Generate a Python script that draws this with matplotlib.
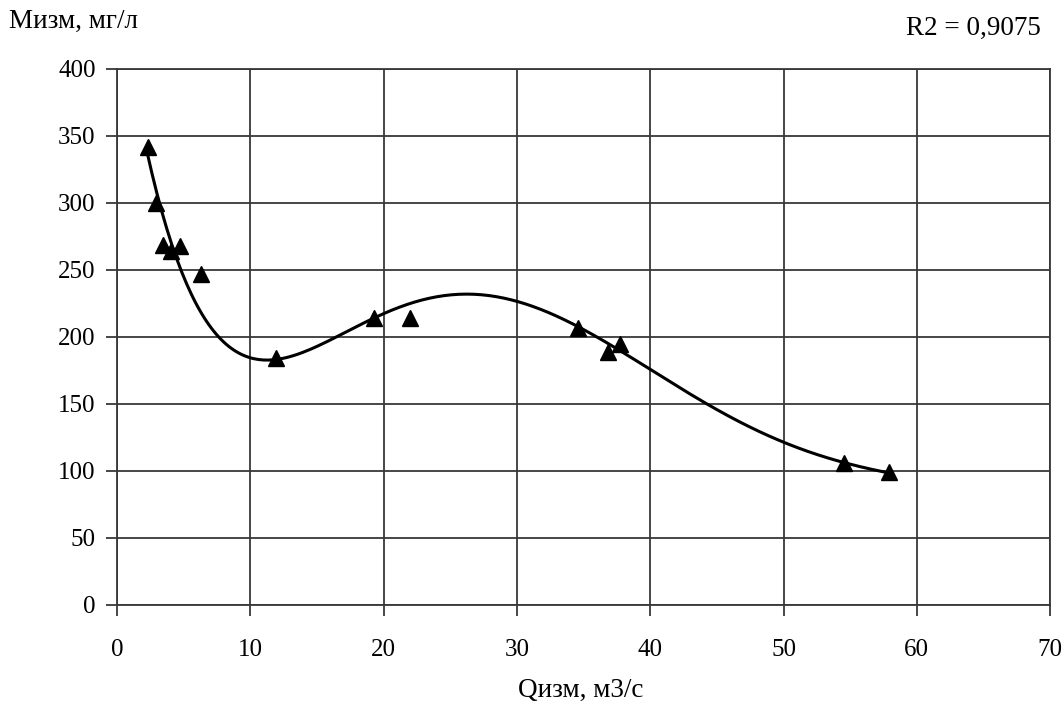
import matplotlib.pyplot as plt
import numpy as np

# Расход воды и концентрация (измеренные)
q_izm = [2.3, 2.9, 3.45, 4.05, 4.7, 6.3, 11.9, 19.3, 22.0, 34.6, 36.8, 37.7, 54.5, 57.9]
m_izm = [342, 300, 269, 264, 268, 247, 184, 214, 214, 207, 189, 195, 106, 99]

# опорные значения полиномиальной линии тренда
trend_q = [2.25, 3.0, 4.1, 5.0, 6.2, 7.5, 8.8, 10.0, 11.8, 13.6, 15.0, 16.7,
           20.0, 22.5, 26.3, 29.7, 32.7, 35.0, 37.7, 40.0, 44.0, 49.7, 54.0, 57.8]
trend_m = [344, 302, 267, 242, 220, 203, 192, 186.5, 184, 187, 192, 200,
           216, 226, 233, 228, 218, 205, 190, 175, 151, 123, 108, 98.5]

x_ticks = [0, 10, 20, 30, 40, 50, 60, 70]
y_ticks = [0, 50, 100, 150, 200, 250, 300, 350, 400]
r2_label = "R2 = 0,9075"

plt.rcParams["font.family"] = ["Liberation Serif", "DejaVu Serif"]

fig = plt.figure(figsize=(10.64, 7.15), dpi=100)
ax = fig.add_axes([0.11, 0.154, 0.877, 0.7495])

coef = np.polyfit(trend_q, trend_m, 6)
xs = np.linspace(min(trend_q), max(trend_q), 300)
ax.plot(xs, np.polyval(coef, xs), color="black", linewidth=2.2, zorder=3)
ax.plot(q_izm, m_izm, linestyle="none", marker="^", color="black",
        markersize=11, zorder=4)

ax.set_xlim(0, 70)
ax.set_ylim(0, 400)
ax.set_xticks(x_ticks)
ax.set_yticks(y_ticks)
ax.grid(color="#383838", linewidth=1.3)
ax.set_axisbelow(True)
for spine in ax.spines.values():
    spine.set_color("#383838")
    spine.set_linewidth(1.3)
ax.tick_params(labelsize=18, length=8, width=1.3, color="#383838")
ax.tick_params(axis="x", pad=16.5)
ax.tick_params(axis="y", pad=7.5)

fig.text(0.008, 0.97, "Мизм, мг/л", fontsize=19.5, ha="left", va="center")
fig.text(0.978, 0.96, r2_label, fontsize=19.5, ha="right", va="center")
fig.text(0.546, 0.035, "Qизм, м3/с", fontsize=19.5, ha="center", va="center")

fig.savefig("out.png", dpi=100)
